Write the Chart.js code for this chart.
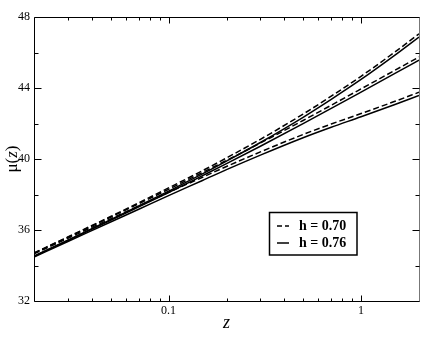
<!DOCTYPE html>
<html>
<head>
<meta charset="utf-8">
<script src="https://cdn.jsdelivr.net/npm/chart.js@4.4.1/dist/chart.umd.min.js"></script>
<style>
    html, body { margin: 0; padding: 0; background: #fff; }
    #wrap { width: 436px; height: 354px; }
</style>
</head>
<body>
<div id="wrap"><canvas id="chart" width="436" height="354"></canvas></div>
<script>
// redshift samples and distance modulus
const zValues = [0.02, 0.03, 0.05, 0.07, 0.1, 0.15, 0.2, 0.3, 0.5, 0.7, 1, 1.5, 2];

// h = 0.70 (dashed)
const upperH70 = [34.71, 35.61, 36.76, 37.53, 38.37, 39.34, 40.06, 41.11, 42.53, 43.54, 44.66, 46.03, 47.05];
const middleH70 = [34.69, 35.59, 36.72, 37.48, 38.29, 39.24, 39.92, 40.90, 42.17, 43.03, 43.95, 45.00, 45.75];
const lowerH70 = [34.66, 35.53, 36.63, 37.35, 38.12, 38.97, 39.58, 40.40, 41.38, 41.97, 42.56, 43.25, 43.76];

// h = 0.76 (solid)
const upperH76 = [34.53, 35.43, 36.58, 37.35, 38.19, 39.16, 39.88, 40.93, 42.35, 43.36, 44.48, 45.85, 46.87];
const middleH76 = [34.51, 35.41, 36.54, 37.30, 38.11, 39.06, 39.74, 40.72, 41.99, 42.85, 43.77, 44.82, 45.57];
const lowerH76 = [34.48, 35.35, 36.45, 37.17, 37.94, 38.79, 39.40, 40.22, 41.20, 41.79, 42.38, 43.07, 43.58];

const xMajorTicks = [0.1, 1];
const xMinorTicks = [0.03, 0.04, 0.05, 0.06, 0.07, 0.08, 0.09, 0.2, 0.3, 0.4, 0.5, 0.6, 0.7, 0.8, 0.9];
const yMajorTicks = [32, 36, 40, 44, 48];
const yMinorTicks = [34, 38, 42, 46];

const legendLabels = ["h = 0.70", "h = 0.76"];

const serif = "'Liberation Serif', 'DejaVu Serif', serif";

function toPoints(ys) {
    return zValues.map((z, i) => ({ x: z, y: ys[i] }));
}

function line(ys, dashed) {
    return {
        data: toPoints(ys),
        borderColor: "#000",
        borderWidth: 1.5,
        borderDash: dashed ? [6, 3] : [],
        pointRadius: 0,
        fill: false,
        cubicInterpolationMode: "monotone"
    };
}

// frame, inward ticks on all four sides, axis titles and the boxed legend
const framePlugin = {
    id: "frame",
    afterDraw(c) {
        const ctx = c.ctx;
        const a = c.chartArea;
        const xs = c.scales.x;
        const ys = c.scales.y;
        const L = Math.round(a.left) + 0.5;
        const R = Math.round(a.right) + 0.5;
        const T = Math.round(a.top) + 0.5;
        const B = Math.round(a.bottom) + 0.5;

        ctx.save();
        ctx.lineWidth = 1;
        ctx.strokeStyle = "#000";

        ctx.beginPath();
        ctx.moveTo(R, T); ctx.lineTo(L, T); ctx.lineTo(L, B); ctx.lineTo(R, B);
        ctx.stroke();
        ctx.strokeStyle = "#777";
        ctx.beginPath();
        ctx.moveTo(R, T); ctx.lineTo(R, B);
        ctx.stroke();
        ctx.strokeStyle = "#000";

        function xTick(v, len) {
            let px = Math.round(xs.getPixelForValue(v)) + 0.5;
            ctx.beginPath();
            ctx.moveTo(px, B); ctx.lineTo(px, B - len);
            ctx.moveTo(px, T); ctx.lineTo(px, T + len);
            ctx.stroke();
        }
        function yTick(v, len) {
            let py = Math.round(ys.getPixelForValue(v)) + 0.5;
            ctx.beginPath();
            ctx.moveTo(L, py); ctx.lineTo(L + len, py);
            ctx.moveTo(R, py); ctx.lineTo(R - len, py);
            ctx.stroke();
        }
        xMajorTicks.forEach(v => xTick(v, 6));
        xMinorTicks.forEach(v => xTick(v, 3));
        yMajorTicks.forEach(v => yTick(v, 7));
        yMinorTicks.forEach(v => yTick(v, 4));

        // x title
        ctx.fillStyle = "#000";
        ctx.textAlign = "center";
        ctx.textBaseline = "middle";
        ctx.font = "italic 18px " + serif;
        ctx.fillText("z", (a.left + a.right) / 2, 323);

        // y title: mu(z) with italic z
        ctx.save();
        ctx.translate(13, (a.top + a.bottom) / 2);
        ctx.rotate(-Math.PI / 2);
        ctx.textAlign = "left";
        ctx.textBaseline = "middle";
        let parts = [["μ(", "17px "], ["z", "italic 17px "], [")", "17px "]];
        let total = 0;
        parts.forEach(p => { ctx.font = p[1] + serif; total += ctx.measureText(p[0]).width; });
        let x = -total / 2;
        parts.forEach(p => {
            ctx.font = p[1] + serif;
            ctx.fillText(p[0], x, 0);
            x += ctx.measureText(p[0]).width;
        });
        ctx.restore();

        // legend box
        ctx.lineWidth = 1.5;
        ctx.strokeRect(269.5, 212.5, 87.5, 42.5);
        ctx.setLineDash([5, 3]);
        ctx.beginPath();
        ctx.moveTo(277, 226); ctx.lineTo(289, 226);
        ctx.stroke();
        ctx.setLineDash([]);
        ctx.beginPath();
        ctx.moveTo(277, 243); ctx.lineTo(289, 243);
        ctx.stroke();
        ctx.font = "bold 14px " + serif;
        ctx.textAlign = "left";
        ctx.textBaseline = "middle";
        ctx.fillText(legendLabels[0], 299, 226.5);
        ctx.fillText(legendLabels[1], 299, 243.5);

        ctx.restore();
    }
};

new Chart(document.getElementById("chart"), {
    type: "line",
    data: {
        datasets: [
            line(upperH70, true),
            line(upperH76, false),
            line(middleH70, true),
            line(middleH76, false),
            line(lowerH70, true),
            line(lowerH76, false)
        ]
    },
    options: {
        responsive: false,
        animation: false,
        layout: { padding: { left: 0, right: 17, top: 17, bottom: 0 } },
        plugins: {
            legend: { display: false },
            tooltip: { enabled: false }
        },
        scales: {
            x: {
                type: "logarithmic",
                min: 0.02,
                max: 2,
                grid: { display: false, drawTicks: false },
                border: { display: false },
                afterBuildTicks: s => { s.ticks = xMajorTicks.map(v => ({ value: v })); },
                afterFit: s => { s.height = 53; },
                ticks: {
                    color: "#000",
                    padding: 3,
                    maxRotation: 0,
                    autoSkip: false,
                    font: { family: serif, size: 12 },
                    callback: v => String(v)
                }
            },
            y: {
                min: 32,
                max: 48,
                grid: { display: false, drawTicks: false },
                border: { display: false },
                afterBuildTicks: s => { s.ticks = yMajorTicks.map(v => ({ value: v })); },
                afterFit: s => { s.width = 34; },
                ticks: {
                    color: "#000",
                    padding: 4,
                    font: { family: serif, size: 12 }
                }
            }
        }
    },
    plugins: [framePlugin]
});
</script>
</body>
</html>
